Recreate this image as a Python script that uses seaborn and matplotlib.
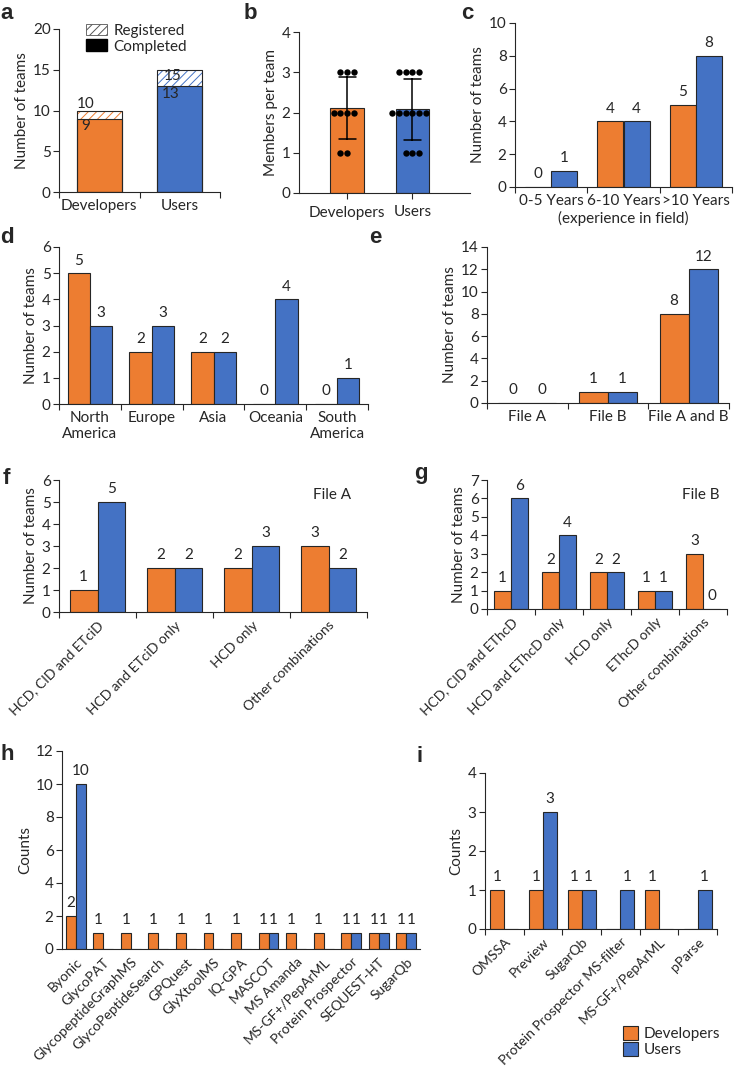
import numpy as np
import pandas as pd
import matplotlib
matplotlib.use('Agg')
import matplotlib.pyplot as plt
from matplotlib.patches import Patch
from matplotlib.ticker import FixedLocator
import seaborn as sns

sns.set_style('ticks')
plt.rcParams['font.family'] = ['Lato', 'DejaVu Sans']
plt.rcParams['hatch.linewidth'] = 0.7

ORANGE = '#ED7D31'
BLUE = '#4472C4'
EDGE = '#262626'
FS = 11
FS_ROT = 10
groups = ['Developers', 'Users']

# a - teams registered / completed
teams_registered = [10, 15]
teams_completed = [9, 13]

# b - members per team (individual teams)
dev_members = [3, 3, 3, 2, 2, 2, 2, 1, 1]
user_members = [3, 3, 3, 3, 2, 2, 2, 2, 2, 2, 1, 1, 1]

# c - experience
exp_cats = ['0-5 Years', '6-10 Years', '>10 Years']
exp_dev = [0, 4, 5]
exp_user = [1, 4, 8]

# d - region
region_cats = ['North\nAmerica', 'Europe', 'Asia', 'Oceania', 'South\nAmerica']
region_dev = [5, 2, 2, 0, 0]
region_user = [3, 3, 2, 4, 1]

# e - files analysed
file_cats = ['File A', 'File B', 'File A and B']
file_dev = [0, 1, 8]
file_user = [0, 1, 12]

# f - fragmentation, file A
fa_cats = ['HCD, CID and ETciD', 'HCD and ETciD only', 'HCD only', 'Other combinations']
fa_dev = [1, 2, 2, 3]
fa_user = [5, 2, 3, 2]

# g - fragmentation, file B
fb_cats = ['HCD, CID and EThcD', 'HCD and EThcD only', 'HCD only', 'EThcD only',
           'Other combinations']
fb_dev = [1, 2, 2, 1, 3]
fb_user = [6, 4, 2, 1, 0]

# h - search software
sw_cats = ['Byonic', 'GlycoPAT', 'GlycopeptideGraphMS', 'GlycoPeptideSearch', 'GPQuest',
           'GlyXtoolMS', 'IQ-GPA', 'MASCOT', 'MS Amanda', 'MS-GF+/PepArML',
           'Protein Prospector', 'SEQUEST-HT', 'SugarQb']
sw_dev = [2, 1, 1, 1, 1, 1, 1, 1, 1, 1, 1, 1, 1]
sw_user = [10, 0, 0, 0, 0, 0, 0, 1, 0, 0, 1, 1, 1]

# i - other software
sw2_cats = ['OMSSA', 'Preview', 'SugarQb', 'Protein Prospector MS-filter',
            'MS-GF+/PepArML', 'pParse']
sw2_dev = [1, 1, 1, 0, 1, 0]
sw2_user = [0, 3, 1, 1, 0, 1]

W, H = 734, 1076
fig = plt.figure(figsize=(W / 100, H / 100), dpi=100)


def add_ax(x0, x1, y0, y1):
    return fig.add_axes([x0 / W, 1 - y1 / H, (x1 - x0) / W, (y1 - y0) / H])


def style(ax, ymax, ystep, ylabel, n, boundary=True):
    sns.despine(ax=ax)
    for s in ['left', 'bottom']:
        ax.spines[s].set_linewidth(0.8)
        ax.spines[s].set_color(EDGE)
    ax.set_ylim(0, ymax)
    ax.set_yticks(np.arange(0, ymax + 0.01, ystep))
    ax.set_ylabel(ylabel, fontsize=FS, labelpad=3)
    ax.set_xlabel('')
    ax.tick_params(axis='y', length=4, width=0.8, color=EDGE, labelsize=FS, pad=2)
    ax.tick_params(axis='x', which='major', length=0, labelsize=FS, pad=5)
    ax.set_xlim(-0.5, n - 0.5)
    if boundary:
        ax.xaxis.set_minor_locator(FixedLocator(np.arange(-0.5, n, 1.0)))
        ax.tick_params(axis='x', which='minor', length=4, width=0.8, color=EDGE)


def paired(ax, cats, dev, user, show_zero=True):
    df = pd.DataFrame({'cat': cats * 2,
                       'group': ['Developers'] * len(cats) + ['Users'] * len(cats),
                       'value': dev + user})
    sns.barplot(data=df, x='cat', y='value', hue='group', palette=[ORANGE, BLUE],
                saturation=1, width=0.72, gap=0, edgecolor=EDGE, linewidth=0.8,
                legend=False, ax=ax)
    for cont, vals in zip(ax.containers, [dev, user]):
        labs = [str(v) if (v or show_zero) else '' for v in vals]
        ax.bar_label(cont, labels=labs, padding=4, fontsize=FS)


def rotate(ax):
    plt.setp(ax.get_xticklabels(), rotation=45, ha='right', rotation_mode='anchor',
             fontsize=FS_ROT)


# ---- a
ax = add_ax(59, 220, 29, 192)
df_a = pd.DataFrame({'group': groups, 'registered': teams_registered,
                     'completed': teams_completed})
sns.barplot(data=df_a, x='group', y='registered', hue='group', palette=[ORANGE, BLUE],
            saturation=1, width=0.56, fill=False, hatch='////', linewidth=0.6,
            legend=False, ax=ax)
sns.barplot(data=df_a, x='group', y='completed', hue='group', palette=[ORANGE, BLUE],
            saturation=1, width=0.56, edgecolor=EDGE, linewidth=0.8, legend=False, ax=ax)
sns.barplot(data=df_a, x='group', y='registered', color=EDGE, width=0.56, fill=False,
            linewidth=0.8, ax=ax)
for i, (reg, comp) in enumerate(zip(teams_registered, teams_completed)):
    if reg - comp >= 2:
        ax.text(i - 0.2, reg + 0.1, str(reg), ha='left', va='top', fontsize=FS)
    else:
        ax.text(i - 0.28, reg - 0.1, str(reg), ha='left', va='bottom', fontsize=FS)
    ax.text(i - 0.22, comp - 0.1, str(comp), ha='left', va='top', fontsize=FS)
style(ax, 20, 5, 'Number of teams', 2)
ax.legend(handles=[Patch(facecolor='white', edgecolor='#555555', hatch='////',
                         linewidth=0.6, label='Registered'),
                   Patch(facecolor='black', edgecolor='black', label='Completed')],
          loc='upper left', bbox_to_anchor=(0.13, 1.07), frameon=False, fontsize=FS,
          handlelength=1.4, handleheight=0.8, handletextpad=0.4, labelspacing=0.1,
          borderaxespad=0)

# ---- b
ax = add_ax(299, 470, 32, 193)
df_b = pd.DataFrame({'group': ['Developers'] * len(dev_members) + ['Users'] * len(user_members),
                     'members': dev_members + user_members})
sns.barplot(data=df_b, x='group', y='members', hue='group', palette=[ORANGE, BLUE],
            saturation=1, width=0.515, errorbar='sd', capsize=0.26,
            err_kws={'color': 'black', 'linewidth': 1.1}, edgecolor=EDGE, linewidth=0.8,
            legend=False, ax=ax)
sns.swarmplot(data=df_b, x='group', y='members', color='black', size=4.6, ax=ax)
style(ax, 4, 1, 'Members per team', 2, boundary=False)
ax.set_xlim(-0.735, 1.88)
ax.tick_params(axis='x', which='major', length=4, width=0.8, color=EDGE)

# ---- c
ax = add_ax(515, 732, 23, 187)
paired(ax, exp_cats, exp_dev, exp_user)
style(ax, 10, 2, 'Number of teams', 3)
ax.set_xlabel('(experience in field)', fontsize=FS, labelpad=2)

# ---- d
ax = add_ax(59, 368, 247, 404)
paired(ax, region_cats, region_dev, region_user)
style(ax, 6, 1, 'Number of teams', 5)

# ---- e
ax = add_ax(487, 729, 247, 403)
paired(ax, file_cats, file_dev, file_user)
style(ax, 14, 2, 'Number of teams', 3)

# ---- f
ax = add_ax(59, 367, 480, 612)
paired(ax, fa_cats, fa_dev, fa_user)
style(ax, 6, 1, 'Number of teams', 4)
rotate(ax)
ax.text(0.95, 0.89, 'File A', transform=ax.transAxes, ha='right', va='center', fontsize=FS)

# ---- g
ax = add_ax(487, 727, 480, 609)
paired(ax, fb_cats, fb_dev, fb_user)
style(ax, 7, 1, 'Number of teams', 5)
rotate(ax)
ax.text(0.97, 0.88, 'File B', transform=ax.transAxes, ha='right', va='center', fontsize=FS)

# ---- h
ax = add_ax(62, 420, 751, 949)
paired(ax, sw_cats, sw_dev, sw_user, show_zero=False)
style(ax, 12, 2, 'Counts', 13, boundary=False)
rotate(ax)

# ---- i
ax = add_ax(485, 717, 773, 929)
paired(ax, sw2_cats, sw2_dev, sw2_user, show_zero=False)
style(ax, 4, 1, 'Counts', 6)
rotate(ax)

# shared legend
fig.legend(handles=[Patch(facecolor=ORANGE, edgecolor=EDGE, linewidth=0.8, label='Developers'),
                    Patch(facecolor=BLUE, edgecolor=EDGE, linewidth=0.8, label='Users')],
           loc='lower right', bbox_to_anchor=(0.99, 0.012), frameon=False, fontsize=FS,
           handlelength=1.0, handleheight=1.0, handletextpad=0.4, labelspacing=0.05,
           borderaxespad=0)

# panel letters
for letter, x, y in [('a', 0, 3), ('b', 244, 3), ('c', 461, 3), ('d', 0, 227),
                     ('e', 369, 227), ('f', 3, 468), ('g', 414, 463), ('h', 1, 744),
                     ('i', 416, 746)]:
    fig.text(x / W, 1 - y / H, letter, ha='left', va='top', fontsize=16,
             fontweight='bold', family='Liberation Sans')

fig.savefig('out.png', dpi=100)
